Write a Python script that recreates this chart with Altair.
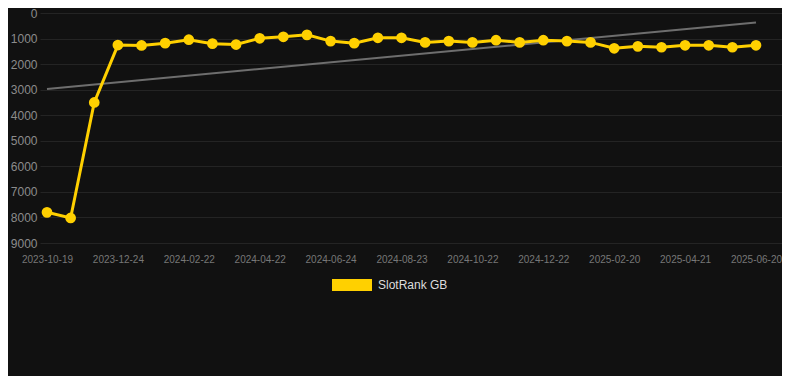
import altair as alt
import pandas as pd

dates = [
    "2023-10-19", "2023-11-10", "2023-12-02", "2023-12-24", "2024-01-13", "2024-02-02",
    "2024-02-22", "2024-03-13", "2024-04-02", "2024-04-22", "2024-05-13", "2024-06-03",
    "2024-06-24", "2024-07-14", "2024-08-03", "2024-08-23", "2024-09-12", "2024-10-02",
    "2024-10-22", "2024-11-11", "2024-12-01", "2024-12-22", "2025-01-11", "2025-01-31",
    "2025-02-20", "2025-03-12", "2025-04-01", "2025-04-21", "2025-05-11", "2025-05-31",
    "2025-06-20",
]
ranks = [
    7800, 8020, 3500, 1255, 1270, 1180, 1045, 1200, 1235, 990, 930, 855,
    1100, 1180, 970, 970, 1150, 1100, 1150, 1065, 1150, 1065, 1100, 1150,
    1380, 1305, 1340, 1265, 1265, 1340, 1265,
]
label_dates = dates[::3]
trend_dates = [dates[0], dates[-1]]
trend_values = [2970, 370]
series_name = "SlotRank GB"

df = pd.DataFrame({"date": dates, "rank": ranks, "series": series_name})
trend_df = pd.DataFrame({"date": trend_dates, "rank": trend_values})

x_scale = alt.Scale(domain=dates, padding=0.698, align=0.212)
y_scale = alt.Scale(domain=[0, 9000], reverse=True)
x_axis = alt.Axis(values=label_dates, labelAngle=0, title=None, labelColor="#777",
                  labelFontSize=10, labelPadding=11, tickSize=0, domain=False,
                  gridColor="#242424", labelFont="Liberation Sans")
y_axis = alt.Axis(values=list(range(0, 9001, 1000)), format="d", title=None,
                  labelColor="#8c8c8c", labelFontSize=12, labelPadding=3, tickSize=0,
                  domain=False, gridColor="#242424", labelFont="Liberation Sans")

color = alt.Color("series:N", scale=alt.Scale(range=["#FFD000"]),
                  legend=alt.Legend(title=None, orient="none", legendX=292, legendY=252,
                                    symbolType="M-1,-0.3H1V0.3H-1Z", symbolSize=1600,
                                    symbolStrokeWidth=0, symbolOpacity=1,
                                    labelColor="#dddddd", labelFontSize=12, labelOffset=6,
                                    labelFont="Liberation Sans", padding=0))

trend = alt.Chart(trend_df).mark_line(color="#6e6e6e", strokeWidth=2).encode(
    x=alt.X("date:O", scale=x_scale, axis=x_axis, sort=dates),
    y=alt.Y("rank:Q", scale=y_scale, axis=y_axis),
)
line = alt.Chart(df).mark_line(strokeWidth=3).encode(
    x=alt.X("date:O", scale=x_scale, axis=x_axis, sort=dates),
    y=alt.Y("rank:Q", scale=y_scale, axis=y_axis),
    color=color,
)
points = alt.Chart(df).mark_circle(size=115, opacity=1).encode(
    x=alt.X("date:O", scale=x_scale, axis=x_axis, sort=dates),
    y=alt.Y("rank:Q", scale=y_scale, axis=y_axis),
    color=alt.Color("series:N", scale=alt.Scale(range=["#FFD000"]), legend=None),
)

chart = alt.layer(trend, line, points).properties(
    width=742, height=230, background="#111111",
    autosize=alt.AutoSizeParams(type="none"),
    padding={"left": 32, "top": 5, "right": 0, "bottom": 133},
).configure_view(stroke=None)

chart.save("out.html", embed_options={"renderer": "svg", "actions": False})
